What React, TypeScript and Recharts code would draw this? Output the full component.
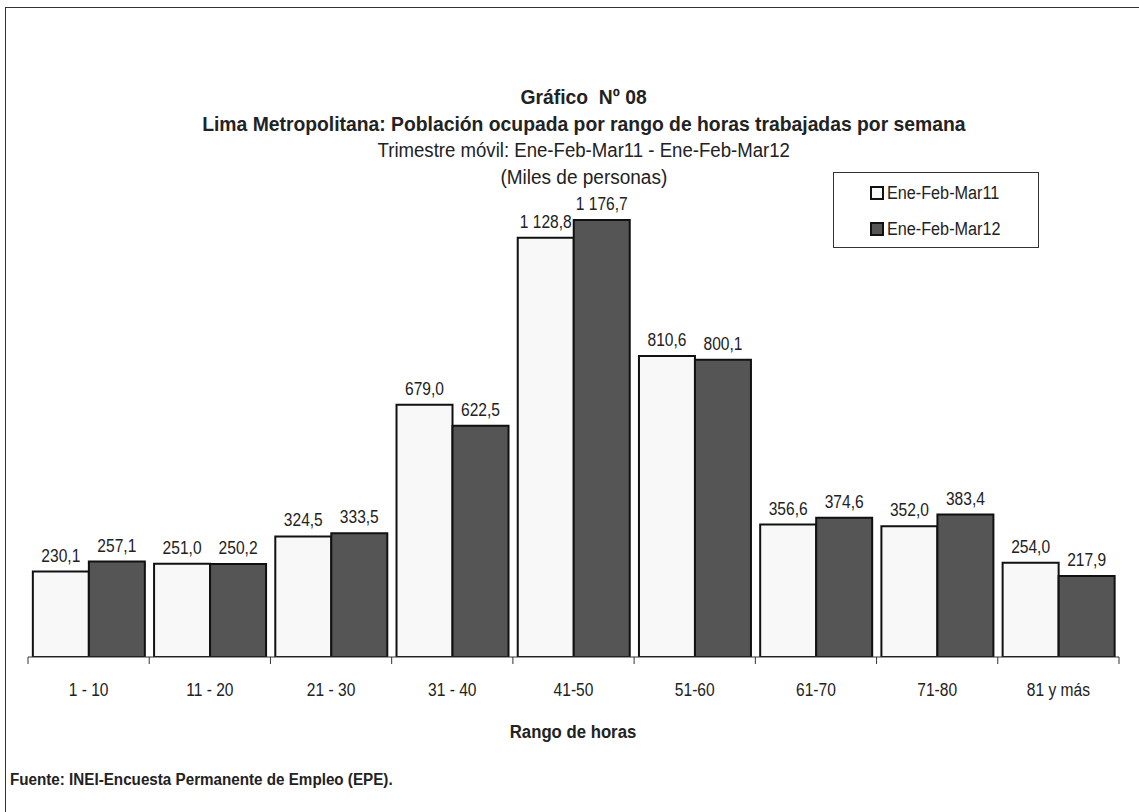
import { BarChart, Bar, XAxis, YAxis, LabelList } from 'recharts';

const categories = ['1 - 10', '11 - 20', '21 - 30', '31 - 40', '41-50', '51-60', '61-70', '71-80', '81 y más'];
const serie2011 = [230.1, 251.0, 324.5, 679.0, 1128.8, 810.6, 356.6, 352.0, 254.0];
const serie2012 = [257.1, 250.2, 333.5, 622.5, 1176.7, 800.1, 374.6, 383.4, 217.9];
const seriesNames = ['Ene-Feb-Mar11', 'Ene-Feb-Mar12'];

const data = categories.map((c, i) => ({ name: c, a: serie2011[i], b: serie2012[i] }));

const FONT = '"Liberation Sans", Arial, sans-serif';
const SX = 0.82; // narrow look
const W = 1139;
const H = 812;
const AXIS_H = 30;
const margin = { top: 137, right: 20, bottom: 155 - AXIS_H, left: 28 };
const band = (W - margin.left - margin.right) / categories.length;

const fmt = (v: any) => {
  const [int, dec] = Number(v).toFixed(1).split('.');
  return int.replace(/\B(?=(\d{3})+(?!\d))/g, ' ') + ',' + dec;
};

function NText({ x, y, size, children, bold }: any) {
  return (
    <text
      transform={`translate(${x},${y}) scale(${SX},1)`}
      textAnchor="middle"
      fontFamily={FONT}
      fontSize={size}
      fontWeight={bold ? 'bold' : 'normal'}
      fill="#222"
    >
      {children}
    </text>
  );
}

function Narrow({ children, style, sx = SX }: any) {
  return (
    <span style={{ display: 'inline-block', transform: `scaleX(${sx})`, whiteSpace: 'pre', ...style }}>{children}</span>
  );
}

function CategoryTick(props: any) {
  const { x, y, payload, index } = props;
  return (
    <g>
      {index === 0 && <line x1={x - band / 2} y1={y - 8} x2={x - band / 2} y2={y - 1} stroke="#333" strokeWidth={1} />}
      <line x1={x + band / 2} y1={y - 8} x2={x + band / 2} y2={y - 1} stroke="#333" strokeWidth={1} />
      <NText x={x} y={y + 31} size={19}>{payload.value}</NText>
    </g>
  );
}

function ValueLabel(props: any) {
  const { x, y, width, value } = props;
  return <NText x={x + width / 2} y={y - 10} size={19}>{fmt(value)}</NText>;
}

function LegendBox() {
  const fills = ['#f8f8f8', '#555555'];
  return (
    <div style={{ position: 'absolute', left: 833, top: 172, width: 206, height: 76, border: '1px solid #333', background: '#fff', boxSizing: 'border-box', paddingTop: 11 }}>
      {seriesNames.map((n, i) => (
        <div key={n} style={{ display: 'flex', alignItems: 'center', marginLeft: 36, height: 18, marginBottom: i === 0 ? 18 : 0 }}>
          <span style={{ width: 10, height: 10, background: fills[i], border: '2px solid #111', marginRight: 3 }} />
          <Narrow sx={0.9} style={{ fontFamily: FONT, fontSize: 18, color: '#222', transformOrigin: 'left center' }}>{n}</Narrow>
        </div>
      ))}
    </div>
  );
}

export default function App() {
  return (
    <div style={{ position: 'absolute', left: 0, top: 0, width: W, height: H, background: '#fff', overflow: 'hidden' }}>
      <div style={{ position: 'absolute', left: 5, top: 7, width: 1200, height: 900, borderLeft: '1px solid #333', borderTop: '1px solid #333' }} />
      <div style={{ position: 'absolute', left: 84, width: 1000, top: 85, textAlign: 'center', fontFamily: FONT, color: '#222', lineHeight: '24.5px' }}>
        <div><Narrow sx={0.92} style={{ fontWeight: 'bold', fontSize: 21 }}>{'Gráfico  Nº 08'}</Narrow></div>
        <div><Narrow sx={0.92} style={{ fontWeight: 'bold', fontSize: 21 }}>Lima Metropolitana: Población ocupada por rango de horas trabajadas por semana</Narrow></div>
        <div><Narrow sx={0.93} style={{ fontSize: 20 }}>Trimestre móvil: Ene-Feb-Mar11 - Ene-Feb-Mar12</Narrow></div>
        <div><Narrow sx={0.95} style={{ fontSize: 20 }}>(Miles de personas)</Narrow></div>
      </div>
      <div style={{ position: 'absolute', left: 0, top: 0 }}>
        <BarChart width={W} height={H} data={data} margin={margin} barCategoryGap="4%" barGap={0}>
          <XAxis dataKey="name" height={AXIS_H} tick={<CategoryTick />} tickLine={false} axisLine={{ stroke: '#333', strokeWidth: 1 }} interval={0} />
          <YAxis hide domain={[0, 1400]} allowDataOverflow />
          <Bar dataKey="a" name={seriesNames[0]} fill="#f8f8f8" stroke="#111" strokeWidth={2} isAnimationActive={false}>
            <LabelList dataKey="a" content={<ValueLabel />} />
          </Bar>
          <Bar dataKey="b" name={seriesNames[1]} fill="#555555" stroke="#111" strokeWidth={2} isAnimationActive={false}>
            <LabelList dataKey="b" content={<ValueLabel />} />
          </Bar>
        </BarChart>
      </div>
      <LegendBox />
      <div style={{ position: 'absolute', left: 0, width: 1146, top: 722, textAlign: 'center', fontFamily: FONT, color: '#222' }}>
        <Narrow sx={0.93} style={{ fontWeight: 'bold', fontSize: 18 }}>Rango de horas</Narrow>
      </div>
      <div style={{ position: 'absolute', left: 10, top: 771, fontFamily: FONT, color: '#222' }}>
        <Narrow sx={0.95} style={{ fontWeight: 'bold', fontSize: 16, transformOrigin: 'left center' }}>Fuente: INEI-Encuesta Permanente de Empleo (EPE).</Narrow>
      </div>
    </div>
  );
}
